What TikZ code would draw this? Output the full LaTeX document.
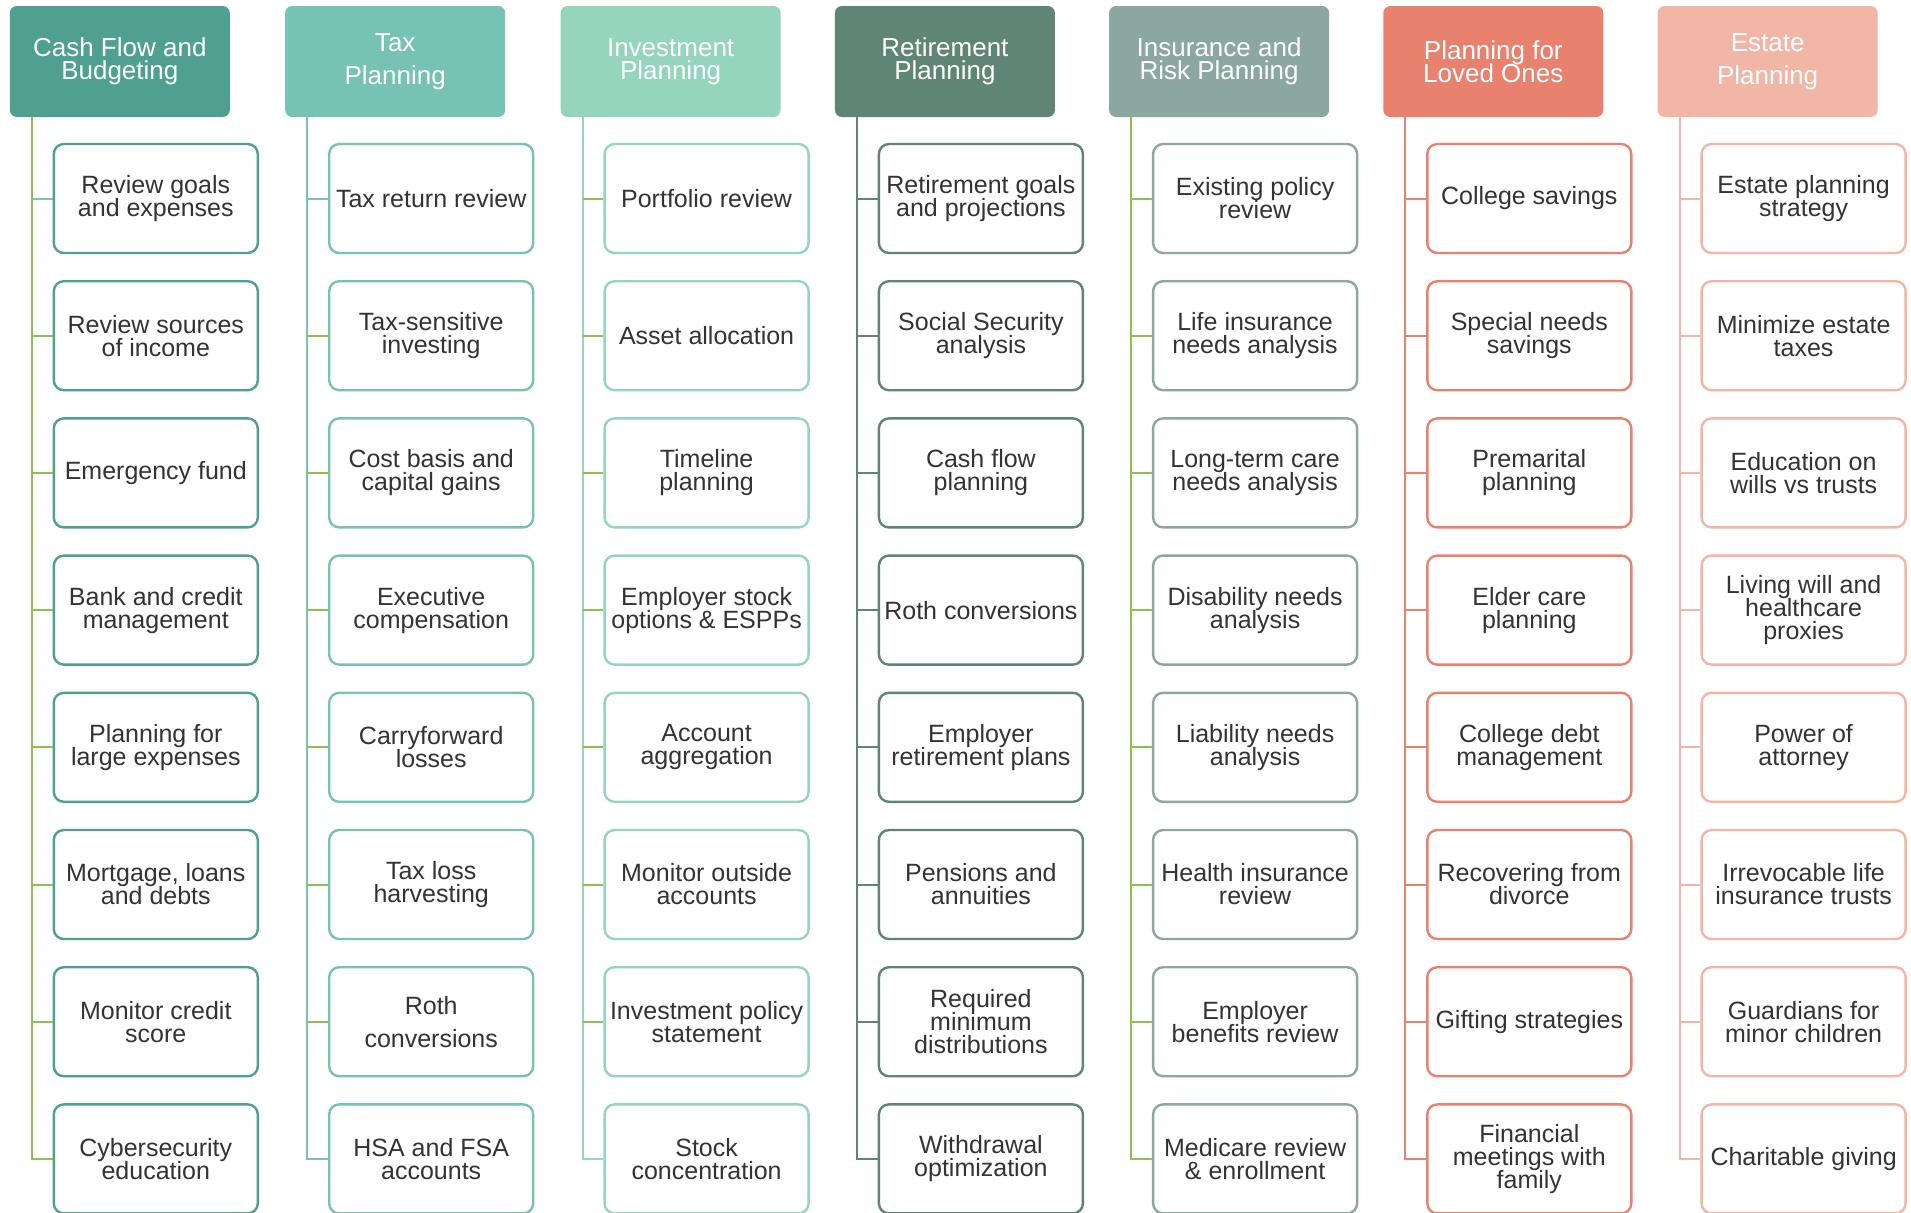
\documentclass[tikz,border=0pt]{standalone}
\usepackage{fontspec}
\setmainfont{Liberation Sans}

\definecolor{cashcol}{HTML}{4FA090}
\definecolor{taxcol}{HTML}{77C3B3}
\definecolor{invcol}{HTML}{95D5BE}
\definecolor{retcol}{HTML}{5F8576}
\definecolor{inscol}{HTML}{8CA79F}
\definecolor{lovcol}{HTML}{E8826E}
\definecolor{estcol}{HTML}{F1B6A6}
\definecolor{leafgreen}{HTML}{8CC152}
\definecolor{itemtext}{HTML}{333333}

\setlength{\lineskiplimit}{-6pt}

\tikzset{
  headbox/.style={fill=#1, draw=none, rounded corners=3.5pt, minimum width=110pt,
    minimum height=55.5pt, inner sep=0pt, align=center, text=white,
    font=\fontsize{13}{11.5}\selectfont},
  itembox/.style={draw=#1, fill=white, line width=1.2pt, rounded corners=5pt,
    minimum width=102pt, minimum height=54.5pt, inner sep=0pt, align=center,
    text=itemtext, font=\fontsize{12.5}{11.5}\selectfont},
  branch/.style={draw=#1, line width=1pt},
}

\begin{document}
\begin{tikzpicture}[x=0.5pt,y=-0.5pt]
                \path [use as bounding box, fill=white] (0,0) rectangle (1911,1212);

                % Headers
                \node [headbox=cashcol] (cashhead) at (119.8,61.5) {Cash Flow and\\Budgeting};
                \node [headbox=taxcol] (taxhead) at (395.2,61.5) {Tax\\[5pt]Planning};
                \node [headbox=invcol] (invhead) at (670.6,61.5) {Investment\\Planning};
                \node [headbox=retcol] (rethead) at (944.9,61.5) {Retirement\\Planning};
                \node [headbox=inscol] (inshead) at (1219.1,61.5) {Insurance and\\Risk Planning};
                \node [headbox=lovcol] (lovhead) at (1493.3,61.5) {Planning for\\Loved Ones};
                \node [headbox=estcol] (esthead) at (1767.6,61.5) {Estate\\[5pt]Planning};

                % Column Cash Flow and Budgeting
                \node [itembox=cashcol] (cash1) at (155.8,198.5) {Review goals\\and expenses};
                \node [itembox=cashcol] (cash2) at (155.8,335.7) {Review sources\\of income};
                \node [itembox=cashcol] (cash3) at (155.8,472.9) {Emergency fund};
                \node [itembox=cashcol] (cash4) at (155.8,610.1) {Bank and credit\\management};
                \node [itembox=cashcol] (cash5) at (155.8,747.3) {Planning for\\large expenses};
                \node [itembox=cashcol] (cash6) at (155.8,884.5) {Mortgage, loans\\and debts};
                \node [itembox=cashcol] (cash7) at (155.8,1021.7) {Monitor credit\\score};
                \node [itembox=cashcol] (cash8) at (155.8,1158.9) {Cybersecurity\\education};

                % Column Tax Planning
                \node [itembox=taxcol] (tax1) at (431.2,198.5) {Tax return review};
                \node [itembox=taxcol] (tax2) at (431.2,335.7) {Tax-sensitive\\investing};
                \node [itembox=taxcol] (tax3) at (431.2,472.9) {Cost basis and\\capital gains};
                \node [itembox=taxcol] (tax4) at (431.2,610.1) {Executive\\compensation};
                \node [itembox=taxcol] (tax5) at (431.2,747.3) {Carryforward\\losses};
                \node [itembox=taxcol] (tax6) at (431.2,884.5) {Tax loss\\harvesting};
                \node [itembox=taxcol] (tax7) at (431.2,1021.7) {Roth\\[5pt]conversions};
                \node [itembox=taxcol] (tax8) at (431.2,1158.9) {HSA and FSA\\accounts};

                % Column Investment Planning
                \node [itembox=invcol] (inv1) at (706.6,198.5) {Portfolio review};
                \node [itembox=invcol] (inv2) at (706.6,335.7) {Asset allocation};
                \node [itembox=invcol] (inv3) at (706.6,472.9) {Timeline\\planning};
                \node [itembox=invcol] (inv4) at (706.6,610.1) {Employer stock\\options \& ESPPs};
                \node [itembox=invcol] (inv5) at (706.6,747.3) {Account\\aggregation};
                \node [itembox=invcol] (inv6) at (706.6,884.5) {Monitor outside\\accounts};
                \node [itembox=invcol] (inv7) at (706.6,1021.7) {Investment policy\\statement};
                \node [itembox=invcol] (inv8) at (706.6,1158.9) {Stock\\concentration};

                % Column Retirement Planning
                \node [itembox=retcol] (ret1) at (980.9,198.5) {Retirement goals\\and projections};
                \node [itembox=retcol] (ret2) at (980.9,335.7) {Social Security\\analysis};
                \node [itembox=retcol] (ret3) at (980.9,472.9) {Cash flow\\planning};
                \node [itembox=retcol] (ret4) at (980.9,610.1) {Roth conversions};
                \node [itembox=retcol] (ret5) at (980.9,747.3) {Employer\\retirement plans};
                \node [itembox=retcol] (ret6) at (980.9,884.5) {Pensions and\\annuities};
                \node [itembox=retcol] (ret7) at (980.9,1021.7) {Required\\minimum\\distributions};
                \node [itembox=retcol] (ret8) at (980.9,1158.9) {Withdrawal\\optimization};

                % Column Insurance and Risk Planning
                \node [itembox=inscol] (ins1) at (1255.1,198.5) {Existing policy\\review};
                \node [itembox=inscol] (ins2) at (1255.1,335.7) {Life insurance\\needs analysis};
                \node [itembox=inscol] (ins3) at (1255.1,472.9) {Long-term care\\needs analysis};
                \node [itembox=inscol] (ins4) at (1255.1,610.1) {Disability needs\\analysis};
                \node [itembox=inscol] (ins5) at (1255.1,747.3) {Liability needs\\analysis};
                \node [itembox=inscol] (ins6) at (1255.1,884.5) {Health insurance\\review};
                \node [itembox=inscol] (ins7) at (1255.1,1021.7) {Employer\\benefits review};
                \node [itembox=inscol] (ins8) at (1255.1,1158.9) {Medicare review\\\& enrollment};

                % Column Planning for Loved Ones
                \node [itembox=lovcol] (lov1) at (1529.3,198.5) {College savings};
                \node [itembox=lovcol] (lov2) at (1529.3,335.7) {Special needs\\savings};
                \node [itembox=lovcol] (lov3) at (1529.3,472.9) {Premarital\\planning};
                \node [itembox=lovcol] (lov4) at (1529.3,610.1) {Elder care\\planning};
                \node [itembox=lovcol] (lov5) at (1529.3,747.3) {College debt\\management};
                \node [itembox=lovcol] (lov6) at (1529.3,884.5) {Recovering from\\divorce};
                \node [itembox=lovcol] (lov7) at (1529.3,1021.7) {Gifting strategies};
                \node [itembox=lovcol] (lov8) at (1529.3,1158.9) {Financial\\meetings with\\family};

                % Column Estate Planning
                \node [itembox=estcol] (est1) at (1803.6,198.5) {Estate planning\\strategy};
                \node [itembox=estcol] (est2) at (1803.6,335.7) {Minimize estate\\taxes};
                \node [itembox=estcol] (est3) at (1803.6,472.9) {Education on\\wills vs trusts};
                \node [itembox=estcol] (est4) at (1803.6,610.1) {Living will and\\healthcare\\proxies};
                \node [itembox=estcol] (est5) at (1803.6,747.3) {Power of\\attorney};
                \node [itembox=estcol] (est6) at (1803.6,884.5) {Irrevocable life\\insurance trusts};
                \node [itembox=estcol] (est7) at (1803.6,1021.7) {Guardians for\\minor children};
                \node [itembox=estcol] (est8) at (1803.6,1158.9) {Charitable giving};

                % Tops of the branch lines
                \coordinate (cashtop) at (31.8,117);
                \coordinate (taxtop) at (307.2,117);
                \coordinate (invtop) at (582.6,117);
                \coordinate (rettop) at (856.9,117);
                \coordinate (instop) at (1131.1,117);
                \coordinate (lovtop) at (1405.3,117);
                \coordinate (esttop) at (1679.6,117);

                % Drawing branches Cash Flow and Budgeting
                \draw [branch=leafgreen] (cashtop) |- (cash8.west);
                \draw [branch=taxcol] (cash1.west) -- (cash1.west -| cashtop);
                \draw [branch=leafgreen] (cash2.west) -- (cash2.west -| cashtop)
                  (cash3.west) -- (cash3.west -| cashtop) (cash4.west) -- (cash4.west -| cashtop)
                  (cash5.west) -- (cash5.west -| cashtop) (cash6.west) -- (cash6.west -| cashtop)
                  (cash7.west) -- (cash7.west -| cashtop);

                % Drawing branches Tax Planning
                \draw [branch=taxcol] (taxtop) |- (tax8.west);
                \draw [branch=taxcol] (tax1.west) -- (tax1.west -| taxtop);
                \draw [branch=leafgreen] (tax2.west) -- (tax2.west -| taxtop)
                  (tax3.west) -- (tax3.west -| taxtop) (tax4.west) -- (tax4.west -| taxtop)
                  (tax5.west) -- (tax5.west -| taxtop) (tax6.west) -- (tax6.west -| taxtop)
                  (tax7.west) -- (tax7.west -| taxtop);

                % Drawing branches Investment Planning
                \draw [branch=invcol] (invtop) |- (inv8.west);
                \draw [branch=leafgreen] (inv1.west) -- (inv1.west -| invtop)
                  (inv2.west) -- (inv2.west -| invtop) (inv3.west) -- (inv3.west -| invtop)
                  (inv4.west) -- (inv4.west -| invtop) (inv5.west) -- (inv5.west -| invtop)
                  (inv6.west) -- (inv6.west -| invtop) (inv7.west) -- (inv7.west -| invtop);

                % Drawing branches Retirement Planning
                \draw [branch=retcol] (rettop) |- (ret8.west);
                \draw [branch=retcol] (ret1.west) -- (ret1.west -| rettop)
                  (ret2.west) -- (ret2.west -| rettop) (ret3.west) -- (ret3.west -| rettop)
                  (ret4.west) -- (ret4.west -| rettop) (ret5.west) -- (ret5.west -| rettop)
                  (ret6.west) -- (ret6.west -| rettop) (ret7.west) -- (ret7.west -| rettop);

                % Drawing branches Insurance and Risk Planning
                \draw [branch=leafgreen] (instop) |- (ins8.west);
                \draw [branch=leafgreen] (ins1.west) -- (ins1.west -| instop)
                  (ins2.west) -- (ins2.west -| instop) (ins3.west) -- (ins3.west -| instop)
                  (ins4.west) -- (ins4.west -| instop) (ins5.west) -- (ins5.west -| instop)
                  (ins6.west) -- (ins6.west -| instop) (ins7.west) -- (ins7.west -| instop);

                % Drawing branches Planning for Loved Ones
                \draw [branch=lovcol] (lovtop) |- (lov8.west);
                \draw [branch=lovcol] (lov1.west) -- (lov1.west -| lovtop)
                  (lov2.west) -- (lov2.west -| lovtop) (lov3.west) -- (lov3.west -| lovtop)
                  (lov4.west) -- (lov4.west -| lovtop) (lov5.west) -- (lov5.west -| lovtop)
                  (lov6.west) -- (lov6.west -| lovtop) (lov7.west) -- (lov7.west -| lovtop);

                % Drawing branches Estate Planning
                \draw [branch=estcol] (esttop) |- (est8.west);
                \draw [branch=estcol] (est1.west) -- (est1.west -| esttop)
                  (est2.west) -- (est2.west -| esttop) (est3.west) -- (est3.west -| esttop)
                  (est4.west) -- (est4.west -| esttop) (est5.west) -- (est5.west -| esttop)
                  (est6.west) -- (est6.west -| esttop) (est7.west) -- (est7.west -| esttop);
\end{tikzpicture}
\end{document}
